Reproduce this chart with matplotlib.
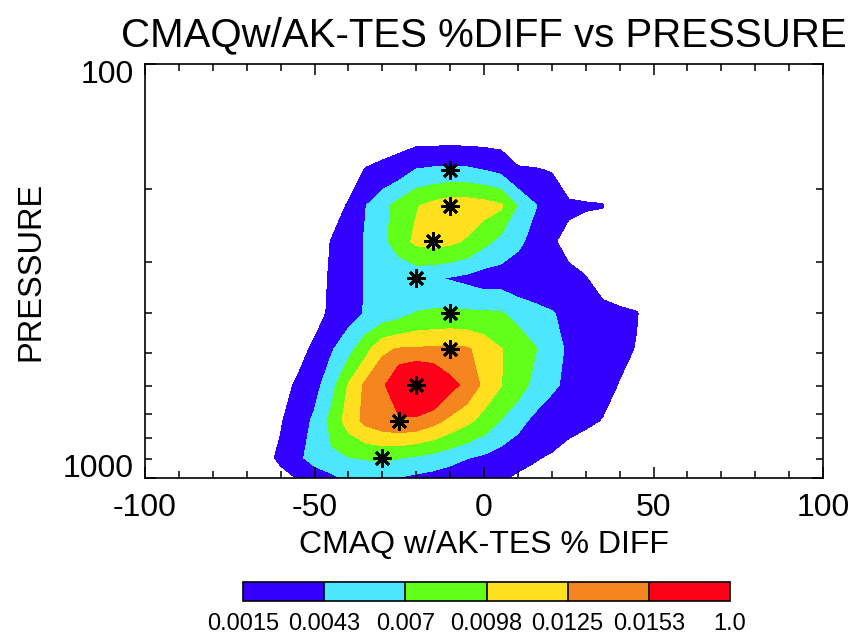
import numpy as np
import matplotlib
matplotlib.use('Agg')
import matplotlib.pyplot as plt
from matplotlib.ticker import FixedLocator, NullFormatter

plt.rcParams['font.family'] = ['Liberation Sans', 'DejaVu Sans']
plt.rcParams['axes.unicode_minus'] = False

# % difference bins (x) and pressure levels in hPa (y)
pct_bins = [-75, -70, -65, -60, -55, -50, -45, -40, -35, -30, -25, -20, -15, -10,
            -5, 0, 5, 10, 15, 20, 25, 30, 35, 40, 45, 50, 55]
pressure = [147.5, 180, 220, 268, 329, 400, 488, 596, 728, 894, 1091]

# normalised frequency per level, in units of 1e-4
freq_1e4 = [
    [0, 0, 0, 0, 0, 0, 0, 0, 0, 0, 0, 0, 0, 0, 0, 0, 0, 0, 0, 0, 0, 0, 0, 0, 0, 0, 0],
    [0, 0, 0, 0, 0, 0, 0, 4, 16, 21, 29, 44, 47, 48, 47, 42, 35, 17, 16, 14, 3, 0, 0, 0, 0, 0, 0],
    [0, 0, 0, 0, 0, 0, 5, 17, 42, 62, 80, 96, 106, 115, 114, 110, 102, 68, 45, 27, 18, 17, 16, 2, 0, 0, 0],
    [0, 0, 0, 0, 0, 3, 16, 30, 45, 62, 85, 104, 108, 104, 95, 78, 62, 50, 32, 17, 10, 3, 0, 0, 0, 0, 0],
    [0, 0, 0, 0, 0, 5, 18, 32, 44, 46, 48, 50, 46, 41, 36, 29, 30, 22, 22, 21, 19, 16, 5, 0, 0, 0, 0],
    [0, 0, 0, 0, 0, 5, 20, 32, 45, 52, 60, 71, 74, 75, 74, 74, 72, 62, 52, 45, 35, 27, 22, 19, 16, 5, 0],
    [0, 0, 0, 0, 5, 20, 40, 60, 88, 120, 127, 128, 129, 131, 128, 115, 99, 85, 72, 55, 38, 30, 25, 20, 14, 3, 0],
    [0, 0, 0, 5, 19, 33, 60, 100, 130, 145, 190, 205, 192, 162, 146, 118, 99, 82, 63, 47, 38, 30, 22, 14, 3, 0, 0],
    [0, 0, 5, 13, 28, 48, 78, 110, 132, 142, 148, 145, 134, 118, 104, 88, 69, 52, 36, 30, 24, 19, 14, 3, 0, 0, 0],
    [0, 0, 8, 19, 36, 55, 66, 69, 72, 75, 71, 66, 60, 52, 44, 38, 30, 24, 17, 12, 4, 0, 0, 0, 0, 0, 0],
    [0, 0, 0, 0, 0, 0, 10, 30, 28, 25, 17, 12, 10, 8, 8, 8, 8, 0, 0, 0, 0, 0, 0, 0, 0, 0, 0],
]

# most frequent % difference at each level
peak_pct = [-10, -10, -15, -20, -10, -10, -20, -25, -30]
peak_p = [180, 220, 268, 329, 400, 488, 596, 728, 894]

levels = [0.0015, 0.0043, 0.007, 0.0098, 0.0125, 0.0153, 1.0]
level_labels = ['0.0015', '0.0043', '0.007', '0.0098', '0.0125', '0.0153', '1.0']
colors = ['#3300FF', '#4CE6FF', '#62FF1A', '#FFE01E', '#F5851E', '#FF0019']

freq = np.array(freq_1e4) * 1e-4
X, P = np.meshgrid(pct_bins, pressure)

fig = plt.figure(figsize=(8.52, 6.34), dpi=100)
ax = fig.add_axes([145 / 852, 1 - 478 / 634, 678 / 852, 414 / 634])

cs = ax.contourf(X, P, freq, levels=levels, colors=colors)
ax.plot(peak_pct, peak_p, linestyle='none', marker=(8, 2, 0), markersize=13,
        markeredgewidth=2.0, color='black')

ax.set_yscale('log')
ax.set_ylim(1000, 100)
ax.set_xlim(-100, 100)

ax.set_xticks([-100, -50, 0, 50, 100])
ax.xaxis.set_minor_locator(FixedLocator(np.arange(-100, 101, 10)))
ax.yaxis.set_major_locator(FixedLocator([100, 1000]))
ax.yaxis.set_minor_locator(FixedLocator([200, 300, 400, 500, 600, 700, 800, 900]))
ax.yaxis.set_major_formatter(NullFormatter())
ax.yaxis.set_minor_formatter(NullFormatter())

ax.tick_params(which='both', direction='in', top=True, right=True, width=1.1)
ax.tick_params(which='major', length=8)
ax.tick_params(which='minor', length=5)
ax.tick_params(axis='x', labelsize=23, pad=10.5)
for s in ax.spines.values():
    s.set_linewidth(1.2)

# pressure labels sit inside the axis range, like the original plot
ax.annotate('100', xy=(0, 100), xycoords=('axes fraction', 'data'),
            xytext=(-8, -13.5), textcoords='offset points',
            ha='right', va='baseline', fontsize=23)
ax.annotate('1000', xy=(0, 1000), xycoords=('axes fraction', 'data'),
            xytext=(-8, 0.7), textcoords='offset points',
            ha='right', va='baseline', fontsize=23)

fig.text(484 / 852, 1 - 46 / 634, 'CMAQw/AK-TES %DIFF vs PRESSURE',
         ha='center', va='baseline', fontsize=29)
fig.text(484 / 852, 1 - 553 / 634, 'CMAQ w/AK-TES % DIFF',
         ha='center', va='baseline', fontsize=23)
fig.text(31 / 852, 1 - 271 / 634, 'PRESSURE', rotation=90,
         ha='center', va='center', fontsize=23.5)

cax = fig.add_axes([243 / 852, 1 - 601 / 634, 487 / 852, 19 / 634])
cb = fig.colorbar(cs, cax=cax, orientation='horizontal', drawedges=True,
                  ticks=levels)
cb.set_ticklabels(level_labels)
cb.ax.tick_params(length=0, labelsize=17, pad=9)
cb.outline.set_linewidth(1.2)
cb.dividers.set_linewidth(1.2)

fig.savefig('out.png', dpi=100)
